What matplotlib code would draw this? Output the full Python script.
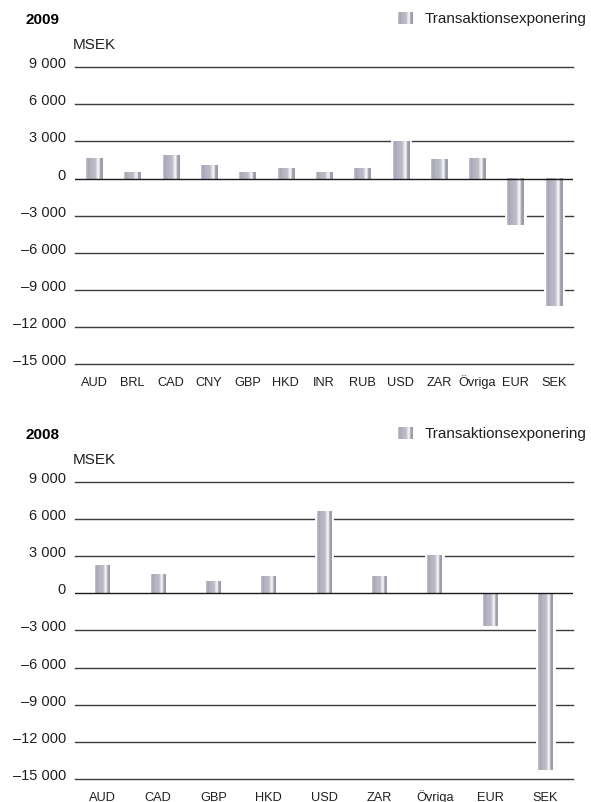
import numpy as np
import matplotlib
matplotlib.use('Agg')
import matplotlib.pyplot as plt

plt.rcParams['font.family'] = ['Liberation Sans', 'DejaVu Sans']

# Data 2009 (MSEK)
valutor_2009 = ['AUD', 'BRL', 'CAD', 'CNY', 'GBP', 'HKD', 'INR', 'RUB', 'USD', 'ZAR', 'Övriga', 'EUR', 'SEK']
exponering_2009 = [1620, 490, 1880, 1080, 490, 810, 490, 810, 3000, 1540, 1620, -3780, -10330]

# Data 2008 (MSEK)
valutor_2008 = ['AUD', 'CAD', 'GBP', 'HKD', 'USD', 'ZAR', 'Övriga', 'EUR', 'SEK']
exponering_2008 = [2240, 1490, 920, 1320, 6570, 1300, 3050, -2620, -14250]

y_ticks = [9000, 6000, 3000, 0, -3000, -6000, -9000, -12000, -15000]
serie_namn = 'Transaktionsexponering'

W, H = 591, 803
fig = plt.figure(figsize=(W / 100, H / 100), dpi=100)

# Gradient for the striped bars (left -> right)
stops = [0.0, 0.12, 0.25, 0.55, 0.66, 0.76, 0.86, 1.0]
cols = ['#c8c8d2', '#a4a4b2', '#b4b4c0', '#bcbcc8', '#e6e6ec', '#fafafc', '#a0a0ae', '#9a9aa8']
rgb = np.array([matplotlib.colors.to_rgb(c) for c in cols])
xs = np.linspace(0, 1, 64)
grad = np.stack([np.interp(xs, stops, rgb[:, k]) for k in range(3)], axis=-1)[None, :, :]

textfarg = '#231f20'


def fmt(v):
    s = f'{abs(v):,}'.replace(',', ' ')
    return ('\u2013' + s) if v < 0 else s


def rita(top_px, bottom_px, kategorier, varden, bredd, ar):
    left_px, right_px = 75, 573
    ax = fig.add_axes([left_px / W, 1 - bottom_px / H,
                       (right_px - left_px) / W, (bottom_px - top_px) / H])
    x = np.arange(len(kategorier))

    # gridlines (except zero, drawn on top)
    for t in y_ticks:
        if t != 0:
            ax.axhline(t, color='#3a3a3a', lw=1.0, zorder=1, clip_on=False)

    # white knockout behind the bars
    ax.bar(x, varden, width=bredd, color='white', edgecolor='white',
           linewidth=3.5, zorder=2)
    for xi, v in zip(x, varden):
        ax.imshow(grad, extent=[xi - bredd / 2, xi + bredd / 2, 0, v],
                  aspect='auto', zorder=3, interpolation='bilinear')

    ax.axhline(0, color='#1a1a1a', lw=1.0, zorder=4)

    ax.set_xlim(-0.5, len(kategorier) - 0.5)
    ax.set_ylim(-15000, 9000)
    ax.set_yticks(y_ticks)
    ax.set_yticklabels([fmt(t) for t in y_ticks], fontsize=10.5, color=textfarg)
    for lbl in ax.get_yticklabels():
        lbl.set_va('baseline')
    ax.set_xticks(x)
    ax.set_xticklabels(kategorier, fontsize=9.2, color=textfarg)
    for lbl in ax.get_xticklabels():
        lbl.set_va('baseline')
    ax.tick_params(axis='y', length=0, pad=6.5)
    ax.tick_params(axis='x', length=0, pad=15.3)
    for s in ax.spines.values():
        s.set_visible(False)

    # title, unit and legend
    fig.text(26 / W, 1 - (top_px - 48) / H, ar, fontsize=11, fontweight='bold',
             color='black', va='center', ha='left')
    fig.text(73 / W, 1 - (top_px - 23) / H, 'MSEK', fontsize=11,
             color=textfarg, va='center', ha='left')
    lax = fig.add_axes([398 / W, 1 - (top_px - 43) / H, 15 / W, 12 / H])
    lax.imshow(grad, aspect='auto', extent=[0, 1, 0, 1])
    lax.axis('off')
    fig.text(425 / W, 1 - (top_px - 49) / H, serie_namn, fontsize=11,
             color=textfarg, va='center', ha='left')
    return ax


rita(68.3, 365, valutor_2009, exponering_2009, 0.42, '2009')
rita(482.7, 780, valutor_2008, exponering_2008, 0.27, '2008')

fig.savefig('out.png', dpi=100)
